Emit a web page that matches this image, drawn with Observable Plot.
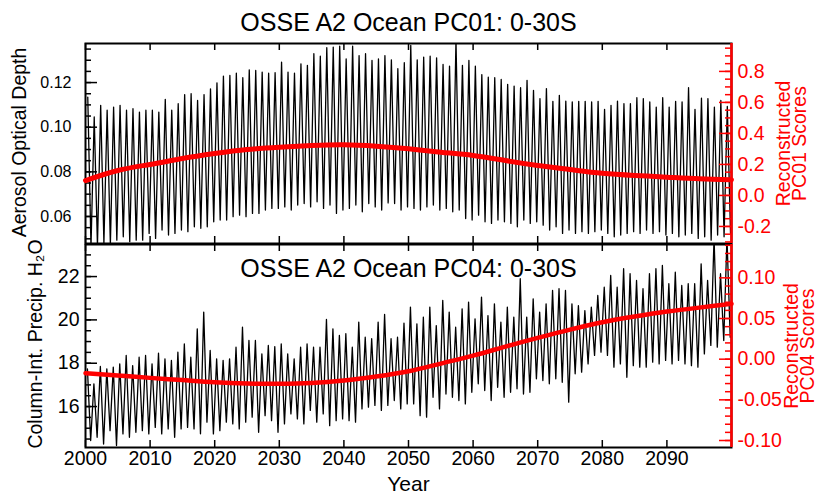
<!DOCTYPE html>
<html><head><meta charset="utf-8">
<script src="https://cdn.jsdelivr.net/npm/d3@7"></script>
<script src="https://cdn.jsdelivr.net/npm/@observablehq/plot@0.6"></script>
<style>
body{margin:0;background:#fff;}
#chart{position:relative;width:818px;height:495px;background:#fff;}
#chart svg{position:absolute;left:0;top:0;}
</style></head><body><div id="chart"></div>
<script>
// ---------------- data ----------------
const startYear = 2000;
const xDomain = [2000, 2100];
const decades = [2000, 2010, 2020, 2030, 2040, 2050, 2060, 2070, 2080, 2090];

// top panel: yearly peak / trough of monthly aerosol optical depth
const aodPeakPhase = 0.35, aodTroughPhase = 0.85;
const aodPeak = [
0.1135,0.1046,0.1098,0.1076,0.1090,0.1098,0.1076,0.1083,0.1068,0.1076,
0.1076,0.1068,0.1125,0.1076,0.1105,0.1146,0.1150,0.1120,0.1146,0.1172,
0.1199,0.1229,0.1232,0.1242,0.1222,0.1257,0.1254,0.1247,0.1242,0.1244,
0.1292,0.1247,0.1242,0.1284,0.1277,0.1329,0.1318,0.1356,0.1359,0.1363,
0.1306,0.1363,0.1321,0.1329,0.1299,0.1306,0.1321,0.1302,0.1262,0.1289,
0.1366,0.1302,0.1314,0.1318,0.1311,0.1281,0.1274,0.1390,0.1277,0.1299,
0.1274,0.1236,0.1224,0.1222,0.1214,0.1192,0.1184,0.1177,0.1210,0.1165,
0.1128,0.1173,0.1116,0.1143,0.1117,0.1113,0.1116,0.1116,0.1113,0.1116,
0.1080,0.1098,0.1117,0.1105,0.1105,0.1132,0.1128,0.1113,0.1090,0.1132,
0.1090,0.1116,0.1113,0.1177,0.1080,0.1130,0.1128,0.1090,0.1120,0.1093];
const aodTrough = [
0.0465,0.0470,0.0480,0.0475,0.0494,0.0509,0.0487,0.0494,0.0494,0.0524,
0.0502,0.0539,0.0517,0.0524,0.0539,0.0532,0.0554,0.0547,0.0554,0.0576,
0.0584,0.0584,0.0599,0.0606,0.0599,0.0614,0.0614,0.0629,0.0636,0.0636,
0.0643,0.0629,0.0651,0.0658,0.0643,0.0666,0.0636,0.0651,0.0614,0.0629,
0.0636,0.0651,0.0621,0.0658,0.0643,0.0629,0.0661,0.0658,0.0629,0.0643,
0.0636,0.0629,0.0643,0.0651,0.0629,0.0636,0.0621,0.0629,0.0591,0.0584,
0.0606,0.0576,0.0569,0.0584,0.0576,0.0569,0.0554,0.0584,0.0569,0.0576,
0.0561,0.0539,0.0554,0.0524,0.0539,0.0524,0.0532,0.0524,0.0532,0.0539,
0.0524,0.0509,0.0517,0.0524,0.0532,0.0524,0.0539,0.0524,0.0532,0.0517,
0.0524,0.0509,0.0517,0.0524,0.0502,0.0509,0.0494,0.0517,0.0509,0.0524];
const pc01Years  = [2000,2005,2010,2015,2020,2025,2030,2035,2040,2045,2050,2055,2060,2065,2070,2075,2080,2085,2090,2095,2100];
const pc01Scores = [0.096,0.161,0.200,0.238,0.270,0.296,0.311,0.322,0.327,0.318,0.301,0.279,0.258,0.225,0.193,0.167,0.143,0.129,0.118,0.107,0.101];

// bottom panel: yearly peak / trough of column-integrated precipitable water
const cwvPeakPhase = 0.3, cwvTroughPhase = 0.8;
const cwvPeak = [
17.74,17.05,17.85,17.74,17.82,17.97,18.36,17.89,18.28,18.36,
17.97,18.46,18.20,18.13,18.51,18.89,18.28,19.59,20.36,18.59,
18.20,18.13,18.20,18.74,19.66,19.05,19.05,18.43,18.82,18.77,
18.89,18.43,18.20,18.74,18.89,18.74,18.74,20.02,19.59,19.28,
19.36,18.74,19.90,19.20,19.13,19.90,20.25,19.13,19.20,19.85,
20.59,19.82,20.13,20.59,19.74,20.90,20.36,19.66,20.51,20.82,
20.05,21.05,20.20,20.74,19.90,20.59,20.13,21.90,20.13,20.97,
20.36,20.74,21.36,21.44,21.36,20.74,20.66,20.43,20.59,21.13,
21.51,22.05,21.51,22.36,22.13,21.82,21.44,22.13,22.36,22.51,
21.67,22.20,21.59,21.67,21.67,22.59,21.82,23.80,22.13,23.80];
const cwvTrough = [
14.43,14.58,14.27,14.89,14.20,14.74,14.58,14.81,14.89,14.74,
15.04,14.74,14.97,14.58,14.97,15.04,14.97,14.74,15.28,14.74,
14.89,15.28,15.20,14.97,15.28,15.51,14.81,15.58,15.35,14.81,
15.20,15.66,15.43,15.20,15.82,15.28,15.66,15.12,15.35,15.43,
15.35,15.28,15.89,15.97,16.05,15.82,16.05,16.28,15.89,16.12,
16.12,15.58,15.51,16.43,15.89,16.58,16.43,16.28,16.12,16.66,
17.05,16.74,16.28,16.89,16.43,16.66,16.82,16.58,16.66,17.28,
17.20,17.05,17.28,17.12,16.20,17.51,17.59,17.97,18.36,18.51,
18.36,17.82,17.97,17.35,17.89,17.82,17.82,18.05,17.97,18.13,
17.97,18.13,17.97,17.89,17.82,18.43,18.82,18.74,19.05,19.20];
const pc04Years  = [2000,2005,2010,2015,2020,2025,2030,2035,2040,2045,2050,2055,2060,2065,2070,2075,2080,2085,2090,2095,2100];
const pc04Scores = [-0.0173,-0.0200,-0.0230,-0.0257,-0.0284,-0.0300,-0.0303,-0.0294,-0.0263,-0.0214,-0.0149,-0.0054,0.0044,0.0155,0.0262,0.0364,0.0454,0.0524,0.0585,0.0634,0.0680];

// axis ticks and labels
const aodDomain = [0.0479, 0.1375];
const aodMajor = [0.06, 0.08, 0.10, 0.12];
const aodMinor = d3.range(10, 28).map(i => i * 0.005);
const pc01Domain = [-0.31, 0.98];
const pc01Major = [-0.2, 0.0, 0.2, 0.4, 0.6, 0.8];
const pc01Minor = d3.range(-6, 20).map(i => i * 0.05);
const cwvDomain = [14.11, 23.48];
const cwvMajor = [16, 18, 20, 22];
const cwvMinor = d3.range(29, 47).map(i => i * 0.5);
const pc04Domain = [-0.1086, 0.141];
const pc04Major = [-0.10, -0.05, 0.00, 0.05, 0.10];
const pc04Minor = d3.range(-10, 15).map(i => i / 100);

const title1 = "OSSE A2 Ocean PC01: 0-30S";
const title2 = "OSSE A2 Ocean PC04: 0-30S";
const aodLabel = "Aerosol Optical Depth";
const cwvLabel = "Column-Int. Precip. H\u2082O";
const xLabel = "Year";
const pcLabelA = "Reconstructed";
const pc01LabelB = "PC01 Scores";
const pc04LabelB = "PC04 Scores";

// ---------------- build series ----------------
const aodSeries = aodPeak.flatMap((p, i) => [
  {t: startYear + i + aodPeakPhase, v: p},
  {t: startYear + i + aodTroughPhase, v: aodTrough[i]}]);
const cwvSeries = cwvPeak.flatMap((p, i) => [
  {t: startYear + i + cwvPeakPhase, v: p},
  {t: startYear + i + cwvTroughPhase, v: cwvTrough[i]}]);
const pc01Series = pc01Years.map((t, i) => ({t, v: pc01Scores[i]}));
const pc04Series = pc04Years.map((t, i) => ({t, v: pc04Scores[i]}));

// ---------------- layout ----------------
const W = 818, H = 495;
const fL = 85, fR = 731;
const topT = 43, topB = 243, botT = 244, botB = 447;
const fw = fR - fL;
const RED = "#ff0000";
const font = "'Liberation Sans', Arial, Helvetica, sans-serif";
const style = {fontFamily: font, fontSize: "19.5px", background: "transparent", overflow: "visible"};
const common = {width: W, height: H, marginLeft: fL, marginRight: W - fR,
  x: {domain: xDomain, axis: null}, style};
const topM = {marginTop: topT, marginBottom: H - topB};
const botM = {marginTop: botT, marginBottom: H - botB};
const hTop = topB - topT, hBot = botB - botT;
const MAJ = 12, MIN = 6, XT = 7;
const centered = {textAnchor: "middle", lineAnchor: "middle"};

const topBlack = Plot.plot({...common, ...topM,
  y: {domain: aodDomain, axis: null},
  marks: [
    Plot.line(aodSeries, {x: "t", y: "v", stroke: "black", strokeWidth: 1.3, clip: true}),
    Plot.tickY(aodMinor, {y: d => d, insetRight: fw - MIN, strokeWidth: 1.5}),
    Plot.tickY(aodMajor, {y: d => d, insetRight: fw - MAJ, strokeWidth: 1.5}),
    Plot.tickX(decades, {x: d => d, insetBottom: hTop - XT, strokeWidth: 1.5}),
    Plot.tickX(decades, {x: d => d, insetTop: hTop - XT, strokeWidth: 1.5}),
    Plot.frame({stroke: "black", strokeWidth: 2}),
    Plot.axisY({ticks: aodMajor, anchor: "left", tickSize: 0, tickPadding: 14,
      tickFormat: d => d.toFixed(2), fontSize: 16, label: null}),
    Plot.text([title1], {text: d => d, ...centered, frameAnchor: "top", dy: -21, fontSize: 25}),
    Plot.text([aodLabel], {text: d => d, ...centered, frameAnchor: "left", rotate: -90, dx: -66, dy: -1, fontSize: 19.5})
  ]});

const topRed = Plot.plot({...common, ...topM,
  y: {domain: pc01Domain, axis: null},
  marks: [
    Plot.line(pc01Series, {x: "t", y: "v", stroke: RED, strokeWidth: 5, curve: "natural"}),
    Plot.ruleX([xDomain[1]], {stroke: RED, strokeWidth: 2.5}),
    Plot.tickY(pc01Minor, {y: d => d, insetLeft: fw - MIN, stroke: RED, strokeWidth: 1.5}),
    Plot.tickY(pc01Major, {y: d => d, insetLeft: fw - MAJ, stroke: RED, strokeWidth: 1.5}),
    Plot.axisY({ticks: pc01Major, anchor: "right", tickSize: 0, tickPadding: 6,
      tickFormat: d => d.toFixed(1), fill: RED, fontSize: 19.5, label: null}),
    Plot.text([pcLabelA], {text: d => d, ...centered, frameAnchor: "right", rotate: -90, dx: 52, fill: RED, fontSize: 19.5}),
    Plot.text([pc01LabelB], {text: d => d, ...centered, frameAnchor: "right", rotate: -90, dx: 68, fill: RED, fontSize: 19.5})
  ]});

const botBlack = Plot.plot({...common, ...botM,
  y: {domain: cwvDomain, axis: null},
  marks: [
    Plot.line(cwvSeries, {x: "t", y: "v", stroke: "black", strokeWidth: 1.3, clip: true}),
    Plot.tickY(cwvMinor, {y: d => d, insetRight: fw - MIN, strokeWidth: 1.5}),
    Plot.tickY(cwvMajor, {y: d => d, insetRight: fw - MAJ, strokeWidth: 1.5}),
    Plot.tickX(decades, {x: d => d, insetBottom: hBot - XT, strokeWidth: 1.5}),
    Plot.tickX(decades, {x: d => d, insetTop: hBot - XT, strokeWidth: 1.5}),
    Plot.frame({stroke: "black", strokeWidth: 2}),
    Plot.axisY({ticks: cwvMajor, anchor: "left", tickSize: 0, tickPadding: 6,
      tickFormat: d => String(d), fontSize: 19.5, label: null}),
    Plot.axisX({ticks: decades, anchor: "bottom", tickSize: 0, tickPadding: 4,
      tickFormat: d => String(d), fontSize: 19.5, label: null}),
    Plot.text([title2], {text: d => d, ...centered, frameAnchor: "top", dy: 24, fontSize: 25}),
    Plot.text([xLabel], {text: d => d, ...centered, frameAnchor: "bottom", dy: 37, fontSize: 21}),
    Plot.text([cwvLabel], {text: d => d, ...centered, frameAnchor: "left", rotate: -90, dx: -50, dy: -2, fontSize: 19.5})
  ]});

const botRed = Plot.plot({...common, ...botM,
  y: {domain: pc04Domain, axis: null},
  marks: [
    Plot.line(pc04Series, {x: "t", y: "v", stroke: RED, strokeWidth: 4.5, curve: "natural"}),
    Plot.ruleX([xDomain[1]], {stroke: RED, strokeWidth: 2.5}),
    Plot.tickY(pc04Minor, {y: d => d, insetLeft: fw - MIN, stroke: RED, strokeWidth: 1.5}),
    Plot.tickY(pc04Major, {y: d => d, insetLeft: fw - MAJ, stroke: RED, strokeWidth: 1.5}),
    Plot.axisY({ticks: pc04Major, anchor: "right", tickSize: 0, tickPadding: 6,
      tickFormat: d => d.toFixed(2), fill: RED, fontSize: 19.5, label: null}),
    Plot.text([pcLabelA], {text: d => d, ...centered, frameAnchor: "right", rotate: -90, dx: 60, fill: RED, fontSize: 19.5}),
    Plot.text([pc04LabelB], {text: d => d, ...centered, frameAnchor: "right", rotate: -90, dx: 76, fill: RED, fontSize: 19.5})
  ]});

const root = document.getElementById("chart");
[topBlack, botBlack, topRed, botRed].forEach(s => root.appendChild(s));
</script></body></html>
